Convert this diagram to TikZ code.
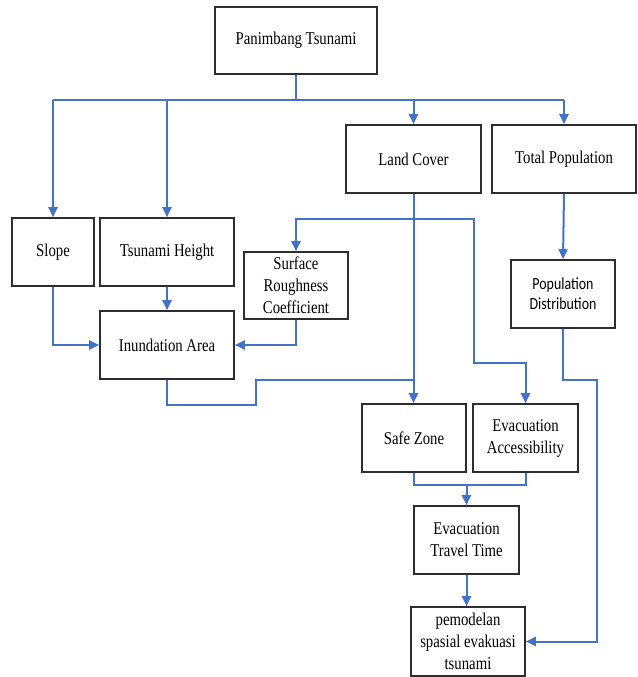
\documentclass[tikz,border=0pt]{standalone}
\usepackage{fontspec}
\setmainfont{Liberation Serif}[FakeStretch=0.82]
\newfontfamily\calibrifont{Carlito}[FakeStretch=0.82]
\usetikzlibrary{calc,arrows.meta}

\definecolor{flowblue}{RGB}{68,114,196}
\definecolor{boxline}{RGB}{45,45,45}

\tikzset{
  block/.style={draw=boxline,line width=1.6pt,inner sep=0pt,align=center,
    font=\fontsize{18}{22}\selectfont},
  link/.style={draw=flowblue,line width=2pt},
  flow/.style={link,-{Triangle[length=10pt,width=9pt]}}
}

\begin{document}
\begin{tikzpicture}[x=1pt,y=-1pt]
  \useasboundingbox (0,0) rectangle (637,677);

  \node[block,minimum width=162pt,minimum height=67pt] (top) at (296,40.5) {Panimbang Tsunami};
  \node[block,minimum width=135pt,minimum height=68pt] (cover) at (413.5,159) {Land Cover};
  \node[block,minimum width=144pt,minimum height=68pt] (pop) at (564,159) {Total Population};
  \node[block,minimum width=82pt,minimum height=68pt] (slope) at (53,252) {Slope};
  \node[block,minimum width=134pt,minimum height=68pt] (height) at (167,252) {Tsunami Height};
  \node[block,minimum width=104pt,minimum height=67pt] (rough) at (296,285.5) {Surface\\Roughness\\Coefficient};
  \node[block,minimum width=134pt,minimum height=68pt] (inund) at (167,345) {Inundation Area};
  \node[block,minimum width=104pt,minimum height=68pt,
    font=\calibrifont\fontsize{17}{20}\selectfont] (dist) at (563,294) {Population\\Distribution};
  \node[block,minimum width=104pt,minimum height=68pt] (safe) at (414,438) {Safe Zone};
  \node[block,minimum width=105pt,minimum height=68pt] (access) at (525.5,438) {Evacuation\\Accessibility};
  \node[block,minimum width=105pt,minimum height=68pt] (travel) at (466.5,540) {Evacuation\\Travel Time};
  \node[block,minimum width=114pt,minimum height=69pt] (model) at (468,641.5) {pemodelan\\spasial evakuasi\\tsunami};

  % main bus
  \draw[link] (top.south) -- ++(0,25) coordinate (bus);
  \draw[link] (bus -| slope.north) -- (bus -| pop.north);
  \foreach \n in {slope,height,cover,pop}
    \draw[flow] (bus -| \n.north) -- (\n.north);

  % inundation inputs
  \draw[flow] (height.south) -- (inund.north);
  \draw[flow] (slope.south) |- (inund.west);
  \draw[flow] (rough.south) |- (inund.east);

  % land cover branches
  \draw[flow] (cover.south) -- (cover.south |- safe.north);
  \coordinate (split) at ($(cover.south)+(0,25)$);
  \draw[flow] (split) -| (rough.north);
  \draw[flow] (split) -- ++(60.5,0) -- ++(0,144) -| (access.north);
  \draw[link] (inund.south) -- ++(0,25) -- ++(89,0) |- (cover.south |- inund.south);

  % population
  \draw[flow] (pop.south) -- (dist.north);
  \draw[flow] (dist.south) -- ++(0,51) -- ++(34,0) |- (model.east);

  % evacuation
  \draw[link] (safe.south) -- ++(0,12) -| (access.south);
  \coordinate (merge) at ($(safe.south)+(0,12)$);
  \draw[flow] (travel.north |- merge) -- (travel.north);
  \draw[flow] (travel.south) -- (travel.south |- model.north);
\end{tikzpicture}
\end{document}
